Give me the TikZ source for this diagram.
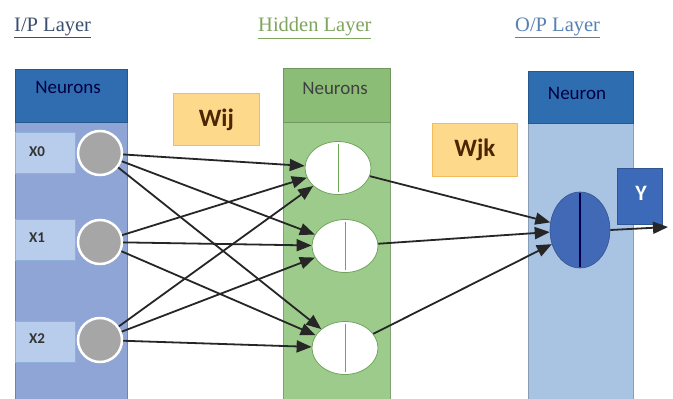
\documentclass[tikz,border=0pt]{standalone}
\usepackage{fontspec}
\setmainfont{Liberation Serif}
\newfontfamily\calib{Carlito}
\usetikzlibrary{arrows.meta,shapes.geometric}
\definecolor{inpanel}{HTML}{8EA5D6}
\definecolor{inhead}{HTML}{2F6DB0}
\definecolor{inbox}{HTML}{B8CDEB}
\definecolor{inboxb}{HTML}{8EB0DA}
\definecolor{hidpanel}{HTML}{9DCB8B}
\definecolor{hidhead}{HTML}{8CBD76}
\definecolor{hidline}{HTML}{6FA55A}
\definecolor{outpanel}{HTML}{A9C3E3}
\definecolor{outhead}{HTML}{2E6EB0}
\definecolor{outell}{HTML}{4169B5}
\definecolor{ybox}{HTML}{3C6AB8}
\definecolor{wbox}{HTML}{FDD98C}
\definecolor{wboxb}{HTML}{F3BC5A}
\definecolor{tin}{HTML}{3A4E6E}
\definecolor{thid}{HTML}{7FA55E}
\definecolor{tout}{HTML}{5880B4}
\definecolor{gcirc}{HTML}{A6A6A6}
\tikzset{
  panel/.style={anchor=north west, inner sep=0pt, draw=#1!80!black, line width=0.6pt},
  head/.style={anchor=north west, inner sep=0pt, draw=#1!80!black, line width=0.6pt},
  title/.style={anchor=west, inner sep=0pt, font=\fontsize{20.5}{24}\selectfont},
  headtxt/.style={font=\calib\fontsize{19}{21}\selectfont},
  xbox/.style={anchor=north west, inner sep=0pt, fill=inbox, draw=inboxb, line width=0.6pt, minimum width=60pt, minimum height=41pt},
  xtxt/.style={font=\calib\bfseries\fontsize{15}{17}\selectfont, text=black!80},
  incirc/.style={circle, fill=gcirc, draw=white, line width=2.5pt, minimum size=44pt, inner sep=0pt},
  hell/.style={ellipse, fill=white, draw=hidline, line width=0.8pt, minimum width=66pt, minimum height=53pt, inner sep=0pt},
  wb/.style={anchor=north west, inner sep=0pt, fill=wbox, draw=wboxb, line width=0.8pt, font=\calib\bfseries\fontsize{25}{28}\selectfont, text=black!70!orange},
  con/.style={-{Triangle[length=15pt,width=12pt]}, line width=1.8pt, black!85},
}
\begin{document}
\begin{tikzpicture}[x=1pt,y=-1pt]
\useasboundingbox (0,0) rectangle (673,399);
\fill[white] (0,0) rectangle (673,399);
% titles
\node[title, text=tin] (t1) at (14,28) {\underline{I/P Layer}};
\node[title, text=thid] (t2) at (258,28) {\underline{Hidden Layer}};
\node[title, text=tout] (t3) at (515,28) {\underline{O/P Layer}};
% input panel
\node[panel=inpanel, fill=inpanel, minimum width=112pt, minimum height=331pt] (ip) at (15,69) {};
\node[head=inhead, fill=inhead, minimum width=112pt, minimum height=53pt] (iph) at (15,69) {};
\node[headtxt, text=black!75!blue] (iphl) at (68,87) {Neurons};
% hidden panel
\node[panel=hidpanel, fill=hidpanel, minimum width=107pt, minimum height=331pt] (hp) at (283,68) {};
\node[head=hidhead, fill=hidhead, minimum width=107pt, minimum height=54pt] (hph) at (283,68) {};
\node[headtxt, text=black!75] (hphl) at (335,88) {Neurons};
% output panel
\node[panel=outpanel, fill=outpanel, minimum width=105pt, minimum height=328pt] (op) at (528,71) {};
\node[head=outhead, fill=outhead, minimum width=105pt, minimum height=52pt] (oph) at (528,71) {};
\node[headtxt, text=black!75!blue] (ophl) at (577,93) {Neuron};
% input boxes
\node[xbox] (b0) at (15,132) {};
\node[xbox] (b1) at (15,219) {};
\node[xbox] (b2) at (15,321) {};
\node[xtxt] (l0) at (37,152) {X0};
\node[xtxt] (l1) at (37,238) {X1};
\node[xtxt] (l2) at (37,339) {X2};
% input neurons
\node[incirc] (x0) at (100,153) {};
\node[incirc] (x1) at (100,242) {};
\node[incirc] (x2) at (100,340) {};
% hidden neurons
\node[hell] (h0) at (338,168) {};
\node[hell] (h1) at (345,246) {};
\node[hell] (h2) at (345,348) {};
\foreach \h in {h0,h1,h2}{\draw[hidline, line width=0.9pt, shorten <=3pt, shorten >=3pt] (\h.north) -- (\h.south);}
% output neuron
\node[ellipse, fill=outell, draw=outell!80!black, line width=0.6pt, minimum width=60pt, minimum height=76pt, inner sep=0pt] (o) at (580,230) {};
\draw[black!70!blue, line width=1.2pt, shorten <=1pt, shorten >=1pt] (o.north) -- (o.south);
% weight boxes
\node[wb, minimum width=86pt, minimum height=52pt] (wij) at (173,93) {Wij};
\node[wb, minimum width=85pt, minimum height=53pt] (wjk) at (432,123) {Wjk};
% Y box
\node[anchor=north west, inner sep=0pt, fill=ybox, draw=ybox!80!black, line width=0.6pt, minimum width=45pt, minimum height=56pt] (y) at (617,168) {};
\node[font=\calib\bfseries\fontsize{22}{24}\selectfont, text=white] (yl) at (641,193) {Y};
% connections input -> hidden
\foreach \i in {x0,x1,x2}{\foreach \j in {h0,h1,h2}{\draw[con] (\i) -- (\j);}}
% hidden -> output
\foreach \j in {h0,h1,h2}{\draw[con] (\j) -- (o);}
\coordinate (yend) at (668,227);
\draw[con] (o.east) -- (yend);
\end{tikzpicture}
\end{document}
